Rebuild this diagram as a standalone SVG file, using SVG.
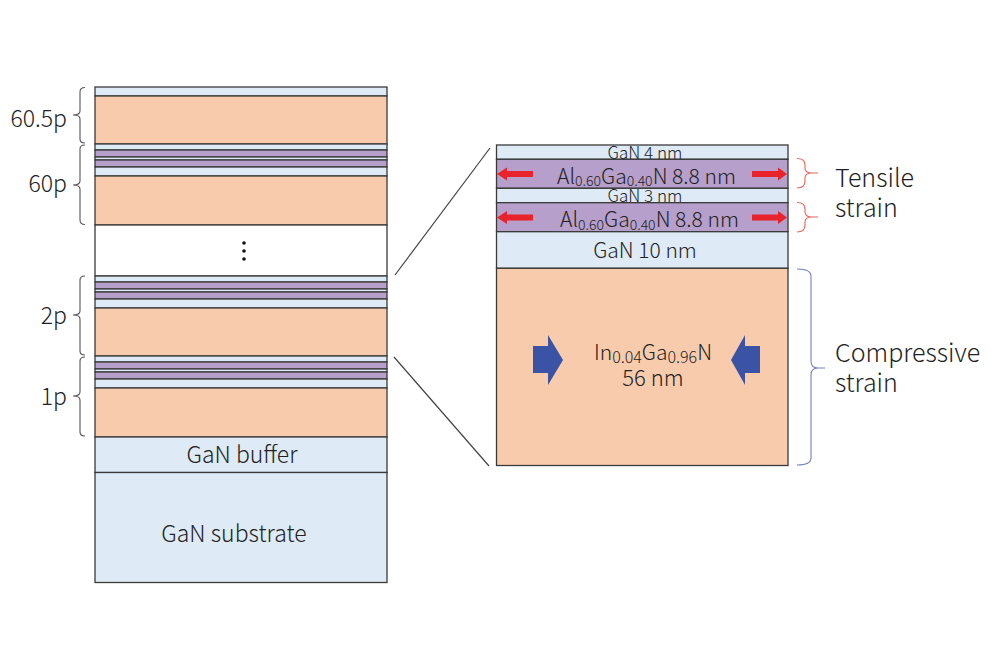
<svg xmlns="http://www.w3.org/2000/svg" width="1000" height="666" viewBox="0 0 1000 666">
<style>
text{font-family:"Noto Sans CJK JP","Noto Sans",sans-serif;font-weight:300;fill:#222}
.lb{fill:#DEEAF5;stroke:#3a3a3a;stroke-width:1.3}
.or{fill:#F8CBAD;stroke:#3a3a3a;stroke-width:1.3}
.pu{fill:#B69FCA;stroke:#3a3a3a;stroke-width:1.3}
.wh{fill:#fff;stroke:#3a3a3a;stroke-width:1.3}
.br{fill:none;stroke:#555;stroke-width:1.1}
.conn{stroke:#444;stroke-width:1.2;fill:none}
.red{fill:#E8232B}
.blue{fill:#3A53A4}
.lbl{font-size:23px}
</style>
<rect width="1000" height="666" fill="#fff"/>
<g id="left-stack">
  <g id="p60_5">
    <rect class="lb" x="95" y="87" width="292" height="9"/>
    <rect class="or" x="95" y="96" width="292" height="48"/>
  </g>
  <g id="p60">
    <rect class="lb" x="95" y="144" width="292" height="6"/>
    <rect class="pu" x="95" y="150" width="292" height="7"/>
    <rect class="lb" x="95" y="157" width="292" height="3"/>
    <rect class="pu" x="95" y="160" width="292" height="7"/>
    <rect class="lb" x="95" y="167" width="292" height="9"/>
    <rect class="or" x="95" y="176" width="292" height="49"/>
  </g>
  <g id="gap">
    <rect class="wh" x="95" y="225" width="292" height="51"/>
    <circle cx="244" cy="243" r="1.8" fill="#111"/>
    <circle cx="244" cy="251" r="1.8" fill="#111"/>
    <circle cx="244" cy="259" r="1.8" fill="#111"/>
  </g>
  <g id="p2">
    <rect class="lb" x="95" y="276" width="292" height="6"/>
    <rect class="pu" x="95" y="282" width="292" height="7"/>
    <rect class="lb" x="95" y="289" width="292" height="3"/>
    <rect class="pu" x="95" y="292" width="292" height="7"/>
    <rect class="lb" x="95" y="299" width="292" height="9"/>
    <rect class="or" x="95" y="308" width="292" height="48"/>
  </g>
  <g id="p1">
    <rect class="lb" x="95" y="356" width="292" height="6"/>
    <rect class="pu" x="95" y="362" width="292" height="7"/>
    <rect class="lb" x="95" y="369" width="292" height="3"/>
    <rect class="pu" x="95" y="372" width="292" height="7"/>
    <rect class="lb" x="95" y="379" width="292" height="9"/>
    <rect class="or" x="95" y="388" width="292" height="49"/>
  </g>
  <g id="buffer">
    <rect class="lb" x="95" y="437" width="292" height="35.5"/>
    <text x="242" y="463" font-size="23" text-anchor="middle">GaN buffer</text>
  </g>
  <g id="substrate">
    <rect class="lb" x="95" y="472.5" width="292" height="110"/>
    <text x="234" y="542" font-size="23" text-anchor="middle">GaN substrate</text>
  </g>
</g>
<g id="left-braces">
  <path class="br" d="M85,87.5 Q80,87.5 80,92 V111 Q80,115 73,115 Q80,115 80,119 V139 Q80,143 85,143"/>
  <path class="br" d="M85,145 Q80,145 80,149 V181 Q80,185 73,185 Q80,185 80,189 V220 Q80,224.5 85,224.5"/>
  <path class="br" d="M85,276 Q80,276 80,280 V311 Q80,315 73,315 Q80,315 80,319 V351 Q80,355 85,355"/>
  <path class="br" d="M85,357 Q80,357 80,361 V392 Q80,396 73,396 Q80,396 80,400 V432 Q80,436 85,436"/>
  <text class="lbl" x="67" y="127" text-anchor="end">60.5p</text>
  <text class="lbl" x="67" y="192" text-anchor="end">60p</text>
  <text class="lbl" x="67" y="324" text-anchor="end">2p</text>
  <text class="lbl" x="67" y="405" text-anchor="end">1p</text>
</g>
<g id="connectors">
  <line class="conn" x1="395" y1="275" x2="490" y2="148"/>
  <line class="conn" x1="394" y1="357" x2="489" y2="466"/>
</g>
<g id="detail">
  <g id="gan4">
    <rect class="lb" x="496.5" y="145" width="291.5" height="14.3"/>
    <text x="645" y="158.5" font-size="17" text-anchor="middle">GaN 4 nm</text>
  </g>
  <g id="algan1">
    <rect class="pu" x="496.5" y="159.3" width="291.5" height="29"/>
    <text x="646.5" y="183.5" font-size="21" text-anchor="middle">Al<tspan font-size="14" dy="2.5">0.60</tspan><tspan dy="-2.5">Ga</tspan><tspan font-size="14" dy="2.5">0.40</tspan><tspan dy="-2.5">N 8.8 nm</tspan></text>
    <polygon class="red" points="497,174 507,167.5 507,171 533,171 533,177 507,177 507,180.5"/>
    <polygon class="red" points="787,174 778,167.5 778,171 752,171 752,177 778,177 778,180.5"/>
  </g>
  <g id="gan3">
    <rect class="lb" x="496.5" y="188.3" width="291.5" height="14.4"/>
    <text x="645" y="202.2" font-size="17" text-anchor="middle">GaN 3 nm</text>
  </g>
  <g id="algan2">
    <rect class="pu" x="496.5" y="202.7" width="291.5" height="29"/>
    <text x="649.5" y="227" font-size="21" text-anchor="middle">Al<tspan font-size="14" dy="2.5">0.60</tspan><tspan dy="-2.5">Ga</tspan><tspan font-size="14" dy="2.5">0.40</tspan><tspan dy="-2.5">N 8.8 nm</tspan></text>
    <polygon class="red" points="497,217.5 507,211 507,214.5 533,214.5 533,220.5 507,220.5 507,224"/>
    <polygon class="red" points="787,217.5 778,211 778,214.5 752,214.5 752,220.5 778,220.5 778,224"/>
  </g>
  <g id="gan10">
    <rect class="lb" x="496.5" y="231.7" width="291.5" height="36.6"/>
    <text x="645" y="258" font-size="21" text-anchor="middle">GaN 10 nm</text>
  </g>
  <g id="ingan">
    <rect class="or" x="496.5" y="268.3" width="291.5" height="197.2"/>
    <text x="653" y="360" font-size="21" text-anchor="middle">In<tspan font-size="16" dy="2.5">0.04</tspan><tspan dy="-2.5">Ga</tspan><tspan font-size="16" dy="2.5">0.96</tspan><tspan dy="-2.5">N</tspan></text>
    <text x="653" y="386" font-size="22" text-anchor="middle">56 nm</text>
    <polygon class="blue" points="533,346 548,346 548,335 563,360 548,385 548,373 533,373"/>
    <polygon class="blue" points="760,346 745,346 745,335 731,360 745,385 745,373 760,373"/>
  </g>
</g>
<g id="strain-labels">
  <path fill="none" stroke="#E8645A" stroke-width="1.1" d="M797,158.5 Q805,158.5 805,165 V168 Q805,173 812,173 H818 M812,173 Q805,173 805,178 V181 Q805,188 797,188"/>
  <path fill="none" stroke="#E8645A" stroke-width="1.1" d="M797,202.5 Q805,202.5 805,209 V212 Q805,217 812,217 H818 M812,217 Q805,217 805,222 V225 Q805,232 797,232"/>
  <path fill="none" stroke="#7480C0" stroke-width="1.1" d="M797,269 Q811,269 811,276 V361 Q811,368 818,368 H825 M818,368 Q811,368 811,375 V458 Q811,465 797,465"/>
  <text x="835" y="187" font-size="25">Tensile</text>
  <text x="835" y="217" font-size="25">strain</text>
  <text x="835" y="362" font-size="25">Compressive</text>
  <text x="835" y="392" font-size="25">strain</text>
</g>
</svg>
